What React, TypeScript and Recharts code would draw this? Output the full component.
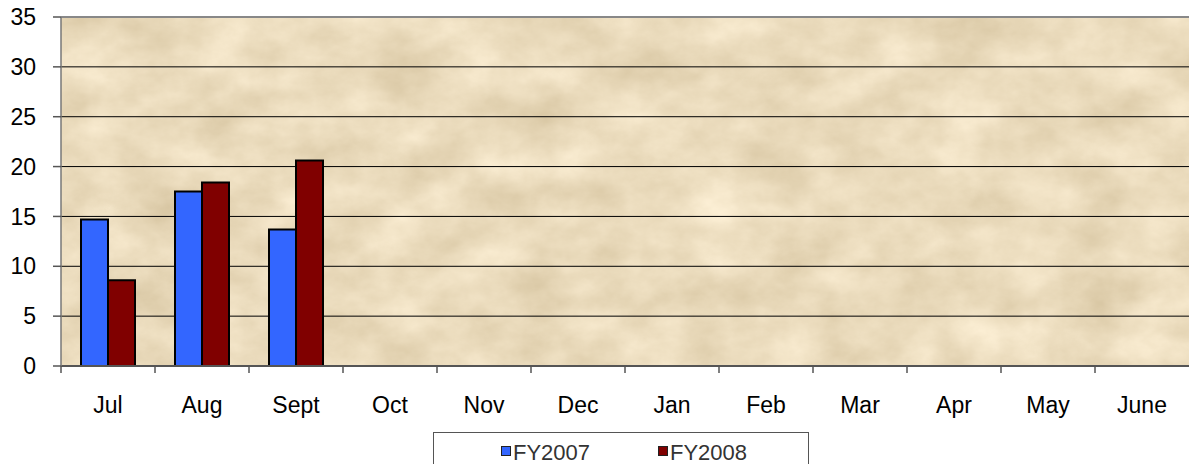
import { BarChart, Bar, XAxis, YAxis, CartesianGrid, ReferenceLine, Legend } from 'recharts';

const months = ['Jul', 'Aug', 'Sept', 'Oct', 'Nov', 'Dec', 'Jan', 'Feb', 'Mar', 'Apr', 'May', 'June'];
const fy2007 = [14.7, 17.5, 13.7, null, null, null, null, null, null, null, null, null];
const fy2008 = [8.6, 18.4, 20.6, null, null, null, null, null, null, null, null, null];
const yTicks = [0, 5, 10, 15, 20, 25, 30, 35];
const seriesNames = ['FY2007', 'FY2008'];
const seriesColors = ['#3366FF', '#800000'];

const data = months.map((m, i) => ({ month: m, FY2007: fy2007[i], FY2008: fy2008[i] }));

const W = 1189;
const H = 464;
const yAxisW = 61;
const plotTop = 17;
const plotBottom = 366;
const band = (W - yAxisW) / months.length;
const font = '"Liberation Sans", Arial, sans-serif';

const XTick = (props: any) => {
  const { x, y, payload } = props;
  const left = x - band / 2;
  return (
    <g>
      <line x1={left} x2={left} y1={plotBottom} y2={plotBottom + 7} stroke="#555" strokeWidth={1.5} />
      <text x={x} y={y} dy="0.71em" textAnchor="middle" fill="#000" fontSize={23} fontFamily={font}>
        {payload.value}
      </text>
    </g>
  );
};

const LegendBox = () => (
  <div
    style={{
      position: 'relative',
      width: 376,
      height: 60,
      border: '1px solid #555',
      background: '#fff',
      boxSizing: 'border-box',
      fontFamily: font,
      fontSize: 22,
      lineHeight: '21px',
      color: '#333'
    }}
  >
    {seriesNames.map((name, i) => (
      <div key={name} style={{ position: 'absolute', left: i === 0 ? 67 : 224, top: 9, whiteSpace: 'nowrap' }}>
        <span
          style={{
            position: 'absolute',
            left: 0,
            top: 4,
            width: 10,
            height: 10,
            boxSizing: 'border-box',
            background: seriesColors[i],
            border: '1px solid #222'
          }}
        />
        <span style={{ position: 'absolute', left: 12, top: 0 }}>{name}</span>
      </div>
    ))}
  </div>
);

export default function App() {
  return (
    <div style={{ width: W, height: H, overflow: 'hidden', background: '#fff' }}>
      <style>{'body{margin:0}'}</style>
      <BarChart
        width={W}
        height={H}
        data={data}
        margin={{ top: plotTop, right: 0, bottom: 0, left: 0 }}
        barSize={27}
        barGap={0}
      >
        <defs>
          <filter
            id="parchmentNoise"
            x="0"
            y="0"
            width="1"
            height="1"
            filterUnits="objectBoundingBox"
            colorInterpolationFilters="sRGB"
          >
            <feTurbulence type="fractalNoise" baseFrequency="0.016 0.022" numOctaves={6} seed={11} result="noise" />
            <feColorMatrix
              in="noise"
              type="matrix"
              values="0.16 0 0 0 0.84  0.18 0 0 0 0.77  0.22 0 0 0 0.63  0 0 0 0 1"
            />
          </filter>
          <pattern id="parchment" patternUnits="userSpaceOnUse" x="0" y="0" width={W} height={H}>
            <rect x="0" y="0" width={W} height={H} fill="#E9D6B0" filter="url(#parchmentNoise)" />
          </pattern>
        </defs>
        <CartesianGrid vertical={false} stroke="#000" strokeWidth={1} fill="url(#parchment)" fillOpacity={1} />
        <ReferenceLine y={35} stroke="#888" strokeWidth={2} />
        <XAxis
          dataKey="month"
          height={H - plotBottom}
          tickLine={false}
          tickSize={7}
          tickMargin={24}
          axisLine={{ stroke: '#555', strokeWidth: 2 }}
          tick={<XTick />}
          interval={0}
        />
        <YAxis
          width={yAxisW}
          domain={[0, 35]}
          ticks={yTicks}
          tickSize={8}
          tickMargin={17}
          axisLine={{ stroke: '#777', strokeWidth: 1.5 }}
          tickLine={{ stroke: '#555', strokeWidth: 1.5 }}
          tick={{ fill: '#000', fontSize: 23, fontFamily: font }}
          interval={0}
        />
        {seriesNames.map((name, i) => (
          <Bar key={name} dataKey={name} fill={seriesColors[i]} stroke="#000" strokeWidth={2} isAnimationActive={false} />
        ))}
        <Legend
          layout="horizontal"
          verticalAlign="middle"
          align="center"
          content={<LegendBox />}
          wrapperStyle={{ left: 433, top: 432, width: 376, height: 60 }}
        />
      </BarChart>
    </div>
  );
}
